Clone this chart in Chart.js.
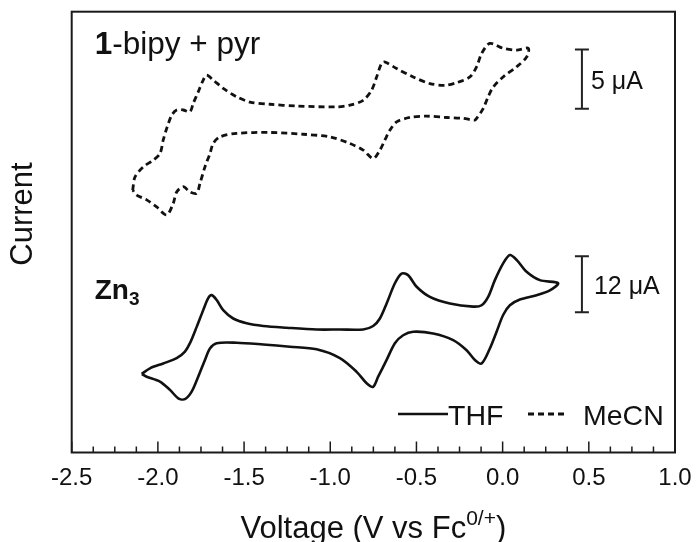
<!DOCTYPE html>
<html>
<head>
<meta charset="utf-8">
<script src="https://cdn.jsdelivr.net/npm/chart.js@4/dist/chart.umd.min.js"></script>
<style>
  html, body { margin: 0; padding: 0; background: #fff; }
  canvas { display: block; }
</style>
</head>
<body>
<canvas id="cv" width="696" height="542"></canvas>
<script>
// Cyclic voltammograms: 1-bipy + pyr in MeCN (dashed) and Zn3 in THF (solid).
// Currents are in plotted (offset, arbitrary) units; the scale bars give the real size.

const bipyVoltage = [-2.146,-2.133,-2.085,-2.027,-1.988,-1.969,-1.949,-1.920,-1.891,-1.853,-1.814,-1.795,-1.766,-1.737,-1.717,-1.679,-1.621,-1.543,-1.466,-1.350,-1.195,-0.963,-0.886,-0.809,-0.760,-0.731,-0.702,-0.683,-0.615,-0.519,-0.422,-0.335,-0.267,-0.190,-0.151,-0.122,-0.074,0.003,0.081,0.149,0.139,0.081,0.003,-0.055,-0.084,-0.113,-0.151,-0.161,-0.229,-0.325,-0.441,-0.538,-0.615,-0.654,-0.683,-0.712,-0.751,-0.809,-0.886,-1.002,-1.157,-1.350,-1.543,-1.640,-1.679,-1.698,-1.727,-1.756,-1.775,-1.814,-1.853,-1.891,-1.911,-1.949,-2.007,-2.065,-2.123,-2.146];
const bipyCurrent = [59.5,62.5,64.8,66.3,67.8,70.9,73.5,76.5,77.7,77.7,77.3,79.2,81.8,84.5,85.6,84.5,82.6,80.7,79.5,79.0,78.6,78.4,78.8,79.9,82.2,85.2,88.3,88.6,87.1,85.2,83.7,83.3,83.9,85.2,87.5,90.5,92.8,91.7,91.3,91.7,89.7,87.5,85.2,82.9,80.7,78.0,75.8,75.4,75.8,76.0,76.3,76.0,75.0,73.1,70.9,68.6,66.7,68.6,70.1,71.6,72.2,72.6,72.4,71.6,70.1,67.8,64.8,61.0,58.8,59.1,60.3,59.1,56.5,53.9,55.7,57.3,58.4,59.5];

const zn3Voltage = [-2.094,-2.046,-1.969,-1.891,-1.843,-1.814,-1.775,-1.737,-1.708,-1.688,-1.659,-1.621,-1.563,-1.485,-1.389,-1.253,-1.079,-0.944,-0.809,-0.751,-0.712,-0.673,-0.625,-0.586,-0.548,-0.499,-0.422,-0.306,-0.171,-0.122,-0.084,-0.045,0.003,0.042,0.081,0.139,0.216,0.322,0.274,0.197,0.100,0.042,0.003,-0.035,-0.074,-0.122,-0.161,-0.209,-0.287,-0.403,-0.519,-0.577,-0.625,-0.673,-0.722,-0.751,-0.789,-0.847,-0.944,-1.079,-1.234,-1.389,-1.543,-1.659,-1.698,-1.727,-1.766,-1.804,-1.843,-1.882,-1.930,-1.988,-2.065,-2.094];
const zn3Current = [17.8,19.1,20.2,21.4,22.9,24.8,28.5,32.3,35.0,35.7,34.6,32.3,30.4,29.3,28.7,28.3,27.9,27.9,27.9,28.7,30.4,33.8,38.4,40.6,40.2,37.6,35.3,33.8,33.1,33.4,35.3,39.1,42.9,44.8,43.7,41.0,39.1,38.4,36.8,35.7,34.7,33.4,31.2,27.4,23.6,20.2,21.0,23.2,25.5,27.0,27.4,26.6,24.8,21.0,17.2,14.9,15.7,18.3,21.4,23.4,24.0,24.5,24.9,24.8,23.6,21.0,17.2,13.8,12.1,12.3,14.2,16.1,17.2,17.8];

const xTickValues = [-2.5, -2.0, -1.5, -1.0, -0.5, 0.0, 0.5, 1.0];
const minorPerMajor = 4;

// Scale bars: voltage position, top and bottom in plotted units, label
const scaleBarVoltage = 0.46;
const scaleBarTop = [91.4, 44.5];
const scaleBarBottom = [78.0, 31.8];
const scaleBarLabels = ['5 \u03bcA', '12 \u03bcA'];

const legendLabels = ['THF', 'MeCN'];

const FONT = '"Liberation Sans", Arial, Helvetica, sans-serif';
const INK = '#111';

function toPoints(xs, ys) {
  return xs.map((x, i) => ({ x: x, y: ys[i] }));
}

const decorPlugin = {
  id: 'cvDecor',
  afterDraw(chart) {
    const ctx = chart.ctx;
    const area = chart.chartArea;
    const xs = chart.scales.x;
    const ys = chart.scales.y;
    ctx.save();

    // frame
    ctx.strokeStyle = '#1a1a1a';
    ctx.lineWidth = 2;
    ctx.setLineDash([]);
    ctx.strokeRect(area.left, area.top, area.right - area.left, area.bottom - area.top);

    // inward ticks on the voltage axis
    ctx.lineWidth = 1.5;
    const lo = xTickValues[0], hi = xTickValues[xTickValues.length - 1];
    const step = (xTickValues[1] - xTickValues[0]) / minorPerMajor;
    const n = Math.round((hi - lo) / step);
    for (let i = 0; i <= n; i++) {
      const px = xs.getPixelForValue(lo + i * step);
      const len = (i % minorPerMajor === 0) ? 11 : 6;
      ctx.beginPath();
      ctx.moveTo(px, area.bottom);
      ctx.lineTo(px, area.bottom - len);
      ctx.stroke();
    }

    // scale bars
    ctx.lineWidth = 2;
    ctx.strokeStyle = '#222';
    ctx.fillStyle = INK;
    ctx.font = '25px ' + FONT;
    ctx.textBaseline = 'middle';
    ctx.textAlign = 'left';
    const bx = xs.getPixelForValue(scaleBarVoltage);
    const labelGap = [9, 12];
    for (let k = 0; k < scaleBarTop.length; k++) {
      const yt = ys.getPixelForValue(scaleBarTop[k]);
      const yb = ys.getPixelForValue(scaleBarBottom[k]);
      ctx.beginPath();
      ctx.moveTo(bx, yt); ctx.lineTo(bx, yb);
      ctx.moveTo(bx - 7, yt); ctx.lineTo(bx + 7, yt);
      ctx.moveTo(bx - 7, yb); ctx.lineTo(bx + 7, yb);
      ctx.stroke();
      ctx.fillText(scaleBarLabels[k], bx + labelGap[k], (yt + yb) / 2 + 3);
    }

    // sample labels
    ctx.textBaseline = 'alphabetic';
    ctx.font = 'bold 31.5px ' + FONT;
    ctx.fillText('1', area.left + 23, 54);
    const w1 = ctx.measureText('1').width;
    ctx.font = '31.5px ' + FONT;
    ctx.fillText('-bipy + pyr', area.left + 23 + w1, 54);

    ctx.font = 'bold 28px ' + FONT;
    ctx.fillText('Zn', area.left + 23, 299);
    const wz = ctx.measureText('Zn').width;
    ctx.font = 'bold 19px ' + FONT;
    ctx.fillText('3', area.left + 23 + wz, 305);

    // legend
    const ds = chart.data.datasets;
    const thf = ds[1], mecn = ds[0];
    ctx.font = '28.5px ' + FONT;
    ctx.strokeStyle = thf.borderColor;
    ctx.lineWidth = thf.borderWidth;
    ctx.setLineDash([]);
    ctx.beginPath(); ctx.moveTo(398, 414); ctx.lineTo(448, 414); ctx.stroke();
    ctx.fillText(legendLabels[0], 448, 425);
    ctx.strokeStyle = mecn.borderColor;
    ctx.lineWidth = mecn.borderWidth;
    ctx.setLineDash(mecn.borderDash);
    ctx.beginPath(); ctx.moveTo(528, 414); ctx.lineTo(566, 414); ctx.stroke();
    ctx.setLineDash([]);
    ctx.fillText(legendLabels[1], 583, 425);

    // axis titles
    ctx.fillStyle = INK;
    ctx.font = '31px ' + FONT;
    const main = 'Voltage (V vs Fc';
    const sup = '0/+';
    const tail = ')';
    const wMain = ctx.measureText(main).width;
    const wTail = ctx.measureText(tail).width;
    ctx.font = '21px ' + FONT;
    const wSup = ctx.measureText(sup).width;
    const total = wMain + wSup + wTail;
    let tx = (area.left + area.right) / 2 - total / 2;
    ctx.font = '31px ' + FONT;
    ctx.fillText(main, tx, 538);
    ctx.font = '21px ' + FONT;
    ctx.fillText(sup, tx + wMain, 525);
    ctx.font = '31px ' + FONT;
    ctx.fillText(tail, tx + wMain + wSup, 538);

    ctx.save();
    ctx.translate(23, 214);
    ctx.rotate(-Math.PI / 2);
    ctx.textAlign = 'center';
    ctx.textBaseline = 'middle';
    ctx.font = '31px ' + FONT;
    ctx.fillText('Current', 0, 0);
    ctx.restore();

    ctx.restore();
  }
};

new Chart(document.getElementById('cv'), {
  type: 'scatter',
  data: {
    datasets: [
      {
        label: legendLabels[1],
        data: toPoints(bipyVoltage, bipyCurrent),
        showLine: true,
        borderColor: '#111',
        borderWidth: 2.8,
        borderDash: [6, 4],
        pointRadius: 0,
        tension: 0.3,
        fill: false
      },
      {
        label: legendLabels[0],
        data: toPoints(zn3Voltage, zn3Current),
        showLine: true,
        borderColor: '#111',
        borderWidth: 2.6,
        pointRadius: 0,
        tension: 0.3,
        fill: false
      }
    ]
  },
  options: {
    responsive: false,
    animation: false,
    devicePixelRatio: 1,
    layout: { padding: { top: 11.7, right: 21, left: 0, bottom: 0 } },
    plugins: {
      legend: { display: false },
      tooltip: { enabled: false }
    },
    scales: {
      x: {
        type: 'linear',
        min: xTickValues[0],
        max: xTickValues[xTickValues.length - 1],
        afterBuildTicks: (s) => { s.ticks = xTickValues.map(v => ({ value: v })); },
        afterFit: (s) => { s.height = 89.5; },
        ticks: {
          callback: (v) => Number(v).toFixed(1),
          font: { family: FONT, size: 24 },
          color: INK,
          padding: 3,
          maxRotation: 0,
          autoSkip: false
        },
        grid: { display: false },
        border: { display: false }
      },
      y: {
        type: 'linear',
        min: 0,
        max: 100,
        afterFit: (s) => { s.width = 71.7; },
        ticks: { display: false },
        grid: { display: false },
        border: { display: false }
      }
    }
  },
  plugins: [decorPlugin]
});
</script>
</body>
</html>
